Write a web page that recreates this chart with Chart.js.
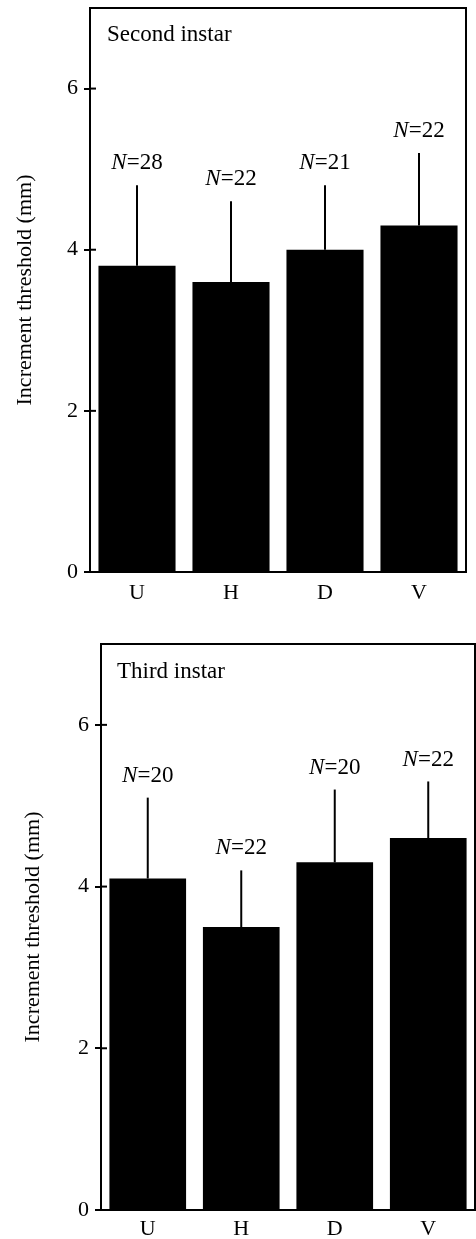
<!DOCTYPE html>
<html>
<head>
<meta charset="utf-8">
<script src="https://cdn.jsdelivr.net/npm/chart.js@4.4.1/dist/chart.umd.min.js"></script>
<style>
  html, body { margin: 0; padding: 0; background: #fff; }
  body { width: 476px; height: 1239px; position: relative; overflow: hidden; }
  canvas { position: absolute; left: 0; }
</style>
</head>
<body>
<canvas id="second" width="476" height="620" style="top:0"></canvas>
<canvas id="third" width="476" height="619" style="top:620px"></canvas>
<script>
const categories = ['U', 'H', 'D', 'V']

const secondMeans = [3.8, 3.6, 4.0, 4.3]
const secondErr = [1.0, 1.0, 0.8, 0.9]
const secondN = [28, 22, 21, 22]

const thirdMeans = [4.1, 3.5, 4.3, 4.6]
const thirdErr = [1.0, 0.7, 0.9, 0.7]
const thirdN = [20, 22, 20, 22]

const yMax = 7
const yStep = 2
const yTitle = 'Increment threshold (mm)'

const SERIF = '"Liberation Serif", "Times New Roman", serif'

// box frame, inner ticks, error bars, N labels, panel name
const panelPlugin = {
  id: 'panel',
  afterDatasetsDraw(chart, args, opts) {
    const { ctx, chartArea: area, scales: { y } } = chart
    const meta = chart.getDatasetMeta(0)
    ctx.save()
    ctx.strokeStyle = '#000'
    ctx.fillStyle = '#000'
    ctx.lineWidth = 2

    // top + right side of the box
    ctx.beginPath()
    ctx.moveTo(area.left, area.top)
    ctx.lineTo(area.right, area.top)
    ctx.lineTo(area.right, area.bottom)
    ctx.stroke()

    // ticks cross the axis a little
    y.ticks.forEach(t => {
      const py = y.getPixelForValue(t.value)
      ctx.beginPath()
      ctx.moveTo(area.left, py)
      ctx.lineTo(area.left + 6, py)
      ctx.stroke()
    })

    meta.data.forEach((bar, i) => {
      const top = y.getPixelForValue(opts.means[i] + opts.errors[i])
      ctx.beginPath()
      ctx.moveTo(bar.x, bar.y)
      ctx.lineTo(bar.x, top)
      ctx.stroke()

      // "N=xx" with italic N
      const rest = '=' + opts.counts[i]
      ctx.font = 'italic 23px ' + SERIF
      const nW = ctx.measureText('N').width
      ctx.font = '23px ' + SERIF
      const rW = ctx.measureText(rest).width
      const x0 = bar.x - (nW + rW) / 2
      const ly = top - 22
      ctx.textBaseline = 'middle'
      ctx.textAlign = 'left'
      ctx.font = 'italic 23px ' + SERIF
      ctx.fillText('N', x0, ly)
      ctx.font = '23px ' + SERIF
      ctx.fillText(rest, x0 + nW, ly)
    })

    ctx.font = '23px ' + SERIF
    ctx.textBaseline = 'middle'
    ctx.textAlign = 'left'
    ctx.fillText(opts.name, area.left + opts.nameDx, area.top + opts.nameDy)
    ctx.restore()
  }
}

function makePanel(id, means, errors, counts, name, layout) {
  const canvas = document.getElementById(id)
  return new Chart(canvas, {
    type: 'bar',
    data: {
      labels: categories,
      datasets: [{
        data: means,
        backgroundColor: '#000',
        borderWidth: 0,
        categoryPercentage: 1,
        barPercentage: 0.82
      }]
    },
    options: {
      responsive: false,
      animation: false,
      layout: { padding: layout.padding },
      plugins: {
        legend: { display: false },
        tooltip: { enabled: false },
        panel: { means, errors, counts, name, nameDx: layout.nameDx, nameDy: layout.nameDy }
      },
      scales: {
        x: {
          grid: { display: false, drawTicks: false },
          border: { display: true, color: '#000', width: 2 },
          ticks: { color: '#000', padding: layout.xPad, font: { family: SERIF, size: 22 } },
          afterFit: s => { s.height = layout.xHeight; s.paddingLeft = 0; s.paddingRight = 0 }
        },
        y: {
          min: 0,
          max: yMax,
          grid: { drawOnChartArea: false, drawTicks: true, tickLength: 6, color: '#000', lineWidth: 2 },
          border: { display: true, color: '#000', width: 2 },
          ticks: { stepSize: yStep, includeBounds: false, color: '#000', padding: 6, font: { family: SERIF, size: 22 } },
          title: {
            display: true,
            text: yTitle,
            color: '#000',
            padding: { top: layout.titlePad, bottom: 0 },
            font: { family: SERIF, size: 22 }
          },
          afterFit: s => { s.width = layout.yWidth; s.paddingTop = 0; s.paddingBottom = 0 }
        }
      }
    },
    plugins: [panelPlugin]
  })
}

makePanel('second', secondMeans, secondErr, secondN, 'Second instar', {
  padding: { top: 8, right: 10, left: 0, bottom: 0 },
  xHeight: 48, xPad: 8, yWidth: 90, titlePad: 12, nameDx: 17, nameDy: 27
})

makePanel('third', thirdMeans, thirdErr, thirdN, 'Third instar', {
  padding: { top: 24, right: 1, left: 0, bottom: 0 },
  xHeight: 29, xPad: 6, yWidth: 101, titlePad: 20, nameDx: 16, nameDy: 28
})
</script>
</body>
</html>
